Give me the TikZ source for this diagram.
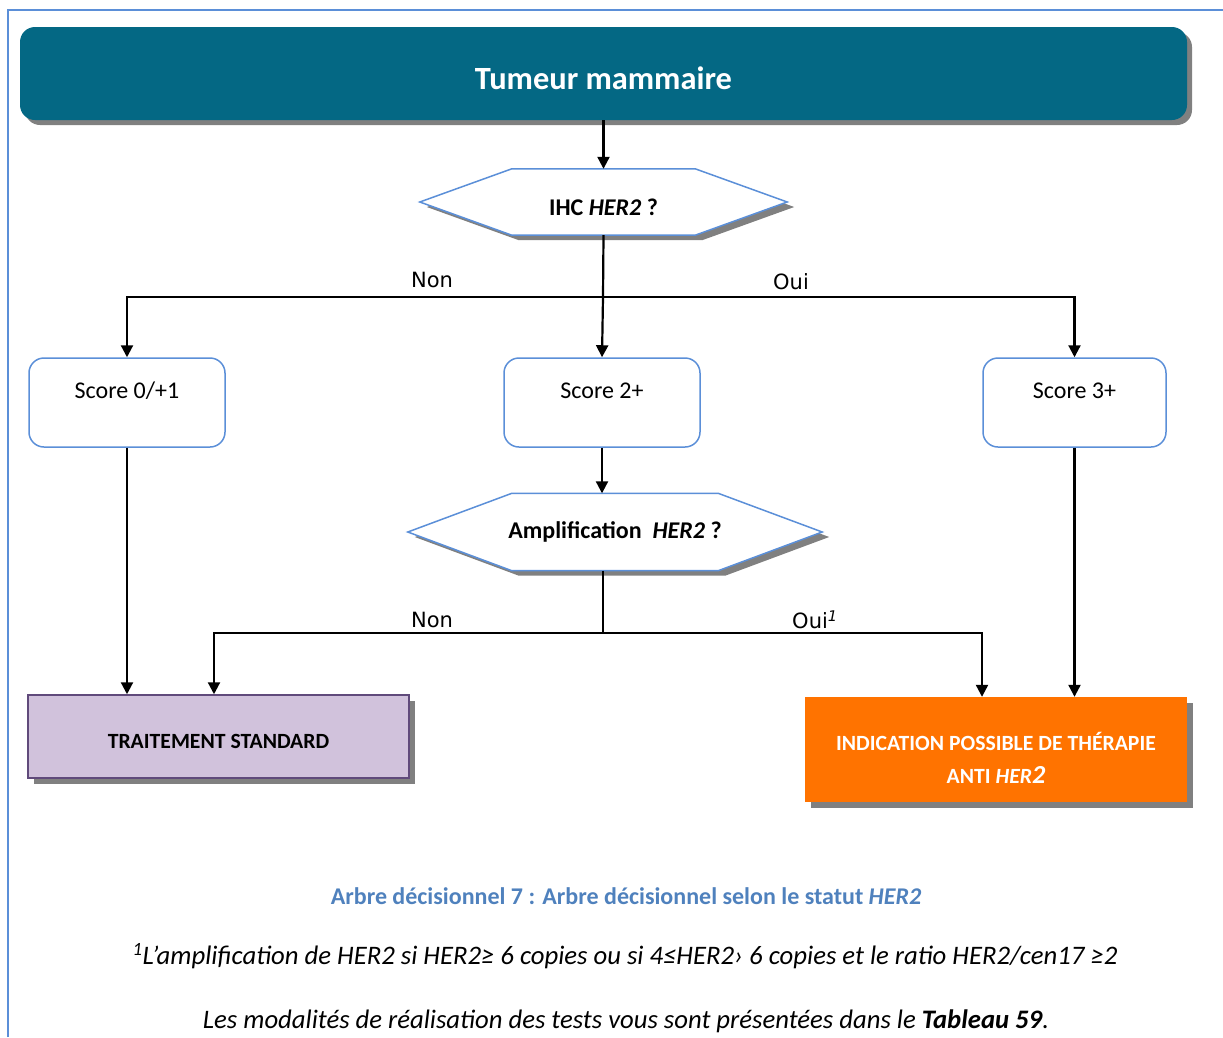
\documentclass[tikz,border=0pt]{standalone}
\usepackage{fontspec}
\setmainfont{Carlito}
\newfontfamily\labelfont{DejaVu Sans}
\usetikzlibrary{shadows,arrows.meta,calc}
\pgfdeclarelayer{background}
\pgfsetlayers{background,main}

\definecolor{frameblue}{HTML}{5B8FD8}
\definecolor{headteal}{HTML}{046884}
\definecolor{hexblue}{HTML}{5B8FD8}
\definecolor{lilac}{HTML}{D1C2DC}
\definecolor{plum}{HTML}{604A7B}
\definecolor{orangebox}{HTML}{FF7300}
\definecolor{captionblue}{HTML}{4F81BD}
\definecolor{shadowgray}{HTML}{808080}

\tikzset{
  box shadow/.style={drop shadow={shadow xshift=6pt,shadow yshift=-6pt,fill=shadowgray,opacity=1}},
  header/.style={rounded corners=15pt, fill=headteal, text=white, inner sep=0pt,
    minimum width=1167pt, minimum height=93pt, text height=32pt, text depth=0pt,
    font=\fontsize{32.4}{38}\selectfont\bfseries,
    drop shadow={shadow xshift=5pt,shadow yshift=-5pt,fill=shadowgray,opacity=1}},
  hexnode/.style={inner sep=0pt, font=\fontsize{24}{29}\selectfont\bfseries},
  hexline/.style={draw=hexblue, line width=1.5pt, fill=white,
    drop shadow={shadow xshift=7pt,shadow yshift=-5pt,fill=shadowgray,opacity=1}},
  scorebox/.style={draw=hexblue, line width=1.5pt, rounded corners=15pt, fill=white,
    inner sep=0pt, minimum height=89pt, text height=17pt, text depth=26pt,
    font=\fontsize{24}{29}\selectfont},
  stdbox/.style={draw=plum, line width=1.5pt, fill=lilac, inner sep=0pt,
    minimum width=381pt, minimum height=83pt, text height=23pt, text depth=0pt,
    font=\fontsize{21.7}{26}\selectfont\bfseries, box shadow},
  indbox/.style={fill=orangebox, text=white, inner sep=0pt, align=center,
    minimum width=382pt, minimum height=105pt, text height=67pt, text depth=0pt,
    font=\fontsize{21.7}{33}\selectfont\bfseries, box shadow},
  flow/.style={line width=2.2pt, black},
  arrow/.style={flow, -{Triangle[length=12pt,width=12pt]}},
  branchlabel/.style={inner sep=0pt, font=\labelfont\fontsize{21}{25}\selectfont},
  captiontext/.style={inner sep=0pt, font=\fontsize{24}{29}\selectfont\bfseries, text=captionblue},
  notetext/.style={inner sep=0pt, font=\fontsize{26.7}{32}\selectfont\itshape}
}

% hexagonal decision outline drawn behind a named text node
\newcommand\drawhexagon[2]{%
  \begin{pgfonlayer}{background}
    \path[hexline] (#1.west) -- ([xshift=#2]#1.north west) -- ([xshift=-#2]#1.north east)
      -- (#1.east) -- ([xshift=-#2]#1.south east) -- ([xshift=#2]#1.south west) -- cycle;
  \end{pgfonlayer}}

\begin{document}
\begin{tikzpicture}[x=1pt,y=-1pt]
\useasboundingbox (0,0) rectangle (1223,1037);

% page frame
\draw[frameblue, line width=2pt] (8,1037) -- (8,10) -- (1223,10);

% header
\node[header] (top) at (603.5,73.5) {Tumeur mammaire};

% first decision
\node[hexnode, minimum width=367pt, minimum height=66pt, text height=26pt, text depth=0pt] (ihc) at (603.5,202) {IHC \textit{HER2} ?};
\drawhexagon{ihc}{92pt}

% IHC scores
\node[scorebox, minimum width=196pt] (s0) at (127,402.5) {Score 0/+1};
\node[scorebox, minimum width=196pt] (s2) at (602,402.5) {Score 2+};
\node[scorebox, minimum width=183pt] (s3) at (1074.5,402.5) {Score 3+};

% second decision
\node[hexnode, minimum width=414pt, minimum height=77pt] (amp) at (615,532) {Amplification\ \ \textit{HER2} ?};
\drawhexagon{amp}{104pt}

% outcomes
\node[stdbox] (std) at (218.5,736.5) {TRAITEMENT STANDARD};
\node[indbox] (ind) at (996,749.5) {INDICATION POSSIBLE DE THÉRAPIE\\ANTI \textit{HER}{\fontsize{26}{33}\selectfont\textit{2}}};

% connectors
\coordinate (j1) at (603,297);
\coordinate (j2) at (603,633);
\coordinate (k1) at (214,633);
\coordinate (k2) at (982,633);

\draw[arrow] (top.south) -- (ihc.north);
\draw[flow] (ihc.south) -- (j1);
\draw[arrow] (j1) -- (s2.north);
\draw[arrow] (j1) -| (s0.north);
\draw[arrow] (j1) -| (s3.north);
\draw[arrow] (s2.south) -- (s2.south |- amp.north);
\draw[flow] (j2 |- amp.south) -- (j2);
\draw[arrow] (j2) -- (k1) -- (k1 |- std.north);
\draw[arrow] (j2) -- (k2) -- (k2 |- ind.north);
\draw[arrow] (s0.south) -- (s0.south |- std.north);
\draw[arrow] (s3.south) -- (s3.south |- ind.north);

% branch labels
\node[branchlabel] (non1) at (432,280) {Non};
\node[branchlabel] (oui1) at (791,282) {Oui};
\node[branchlabel] (non2) at (432,620) {Non};
\node[branchlabel] (oui2) at (815,620) {Oui\textsuperscript{\textit{1}}};

% caption and notes
\node[captiontext] (cap) at (626,896) {Arbre décisionnel 7 : Arbre décisionnel selon le statut \textit{HER2}};
\node[notetext] (note) at (625,956) {\textsuperscript{1}L’amplification de HER2 si HER2≥ 6 copies ou si 4≤HER2› 6 copies et le ratio HER2/cen17 ≥2};
\node[notetext] (ref) at (626,1021) {Les modalités de réalisation des tests vous sont présentées dans le \textbf{Tableau 59}.};
\end{tikzpicture}
\end{document}
